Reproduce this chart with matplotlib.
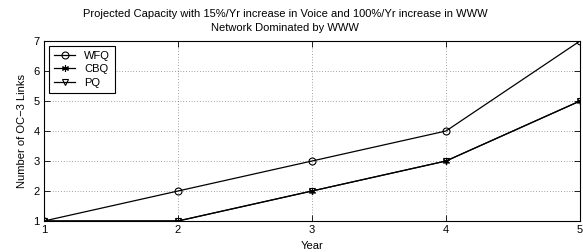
import matplotlib
matplotlib.use("Agg")
import matplotlib.pyplot as plt

plt.rcParams['font.family'] = ['Liberation Sans', 'DejaVu Sans']

years = [1, 2, 3, 4, 5]
wfq = [1, 2, 3, 4, 7]
cbq = [1, 1, 2, 3, 5]
pq = [1, 1, 2, 3, 5]

fig = plt.figure(figsize=(5.83, 2.52), dpi=100)
ax = fig.add_axes([44 / 583, 1 - 221 / 252, (580 - 44) / 583, (221 - 41) / 252])

ax.plot(years, wfq, color='k', lw=0.9, marker='o', ms=5, mfc='none', mec='k', mew=0.8, label='WFQ')
# asterisk-like marker as in MATLAB
ax.plot(years, cbq, color='k', lw=0.9, marker=(6, 2, 0), ms=5, mec='k', mew=0.8, label='CBQ')
ax.plot(years, pq, color='k', lw=0.9, marker='v', ms=5, mfc='none', mec='k', mew=0.8, label='PQ')

ax.set_xlim(1, 5)
ax.set_ylim(1, 7)
ax.set_xticks(years)
ax.set_yticks(range(1, 8))
ax.grid(True, linestyle=(0, (1, 3)), color='k', lw=0.5, alpha=0.7)
ax.tick_params(direction='in', length=4, labelsize=8, width=0.6, top=True, right=True, pad=3)
for s in ax.spines.values():
    s.set_linewidth(0.8)

ax.set_xlabel('Year', fontsize=8, labelpad=4)
ax.set_ylabel('Number of OC\u22123 Links', fontsize=8, labelpad=5)
fig.text(285 / 583, 1 - 14 / 252, 'Projected Capacity with 15%/Yr increase in Voice and 100%/Yr increase in WWW',
         fontsize=8, ha='center', va='center')
fig.text(285 / 583, 1 - 28 / 252, 'Network Dominated by WWW', fontsize=8, ha='center', va='center')

leg = ax.legend(loc='upper left', fontsize=8, fancybox=False, edgecolor='k',
                framealpha=1, handlelength=1.9, borderpad=0.45, labelspacing=0.3,
                borderaxespad=0.45, handletextpad=0.8)
leg.get_frame().set_linewidth(0.8)

fig.savefig('out.png', dpi=100)
